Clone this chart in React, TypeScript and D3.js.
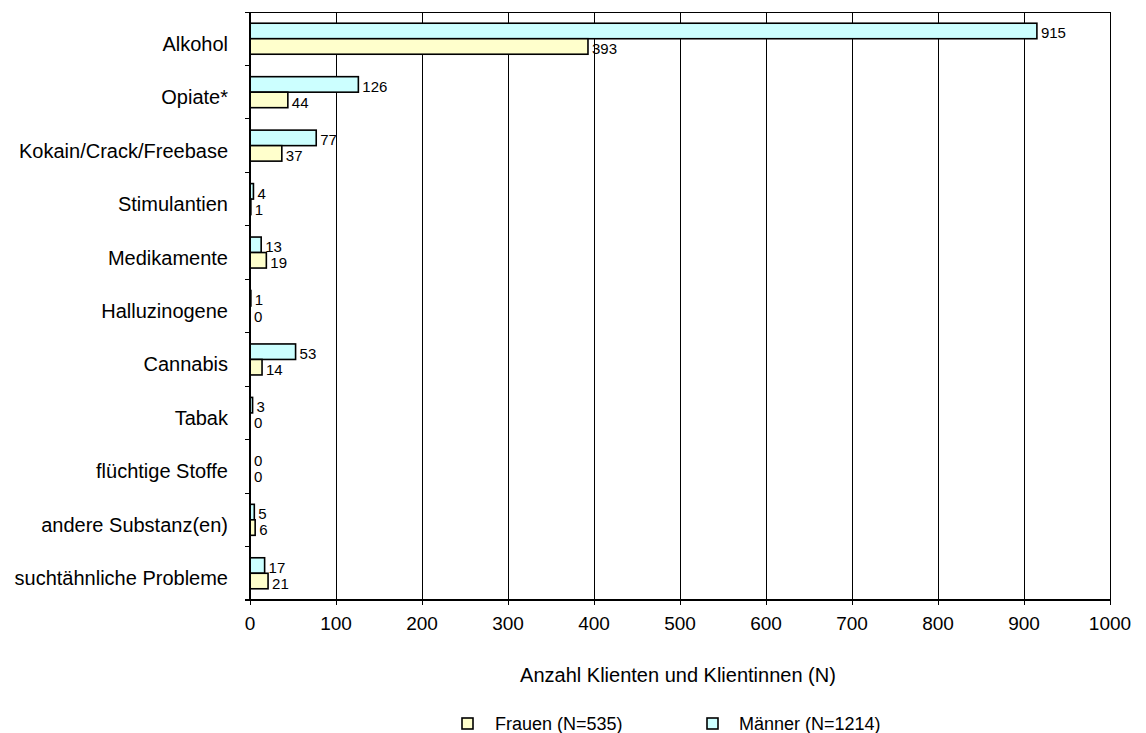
import React from "react";
import * as d3 from "d3";

const categories = [
  "Alkohol",
  "Opiate*",
  "Kokain/Crack/Freebase",
  "Stimulantien",
  "Medikamente",
  "Halluzinogene",
  "Cannabis",
  "Tabak",
  "flüchtige Stoffe",
  "andere Substanz(en)",
  "suchtähnliche Probleme",
];
const maenner = [915, 126, 77, 4, 13, 1, 53, 3, 0, 5, 17];
const frauen = [393, 44, 37, 1, 19, 0, 14, 0, 0, 6, 21];
const xTicks = [0, 100, 200, 300, 400, 500, 600, 700, 800, 900, 1000];
const seriesNames = ["Frauen (N=535)", "Männer (N=1214)"];
const axisTitle = "Anzahl Klienten und Klientinnen (N)";

const W = 1146;
const H = 733;
const M = { left: 250, right: 1110, top: 12, bottom: 600 };
const FONT = "Arial, 'Liberation Sans', sans-serif";
const C_M = "#CCFFFF";
const C_F = "#FFFFCC";

export default function App() {
  const x = d3.scaleLinear().domain([0, 1000]).range([M.left, M.right]);
  const y = d3
    .scaleBand<string>()
    .domain(categories)
    .range([M.top, M.bottom])
    .paddingInner(0)
    .paddingOuter(0);
  const bw = y.bandwidth();
  const barH = bw * 0.29;

  return (
    <svg
      width={W}
      height={H}
      style={{ position: "absolute", left: 0, top: 0, background: "#fff" }}
      fontFamily={FONT}
    >
      {/* gridlines */}
      <g shapeRendering="crispEdges">
        {xTicks.map((t) => (
          <line
            key={"g" + t}
            x1={x(t)}
            x2={x(t)}
            y1={M.top}
            y2={M.bottom}
            stroke="#000"
            strokeWidth={1}
          />
        ))}
        <line x1={M.left} x2={M.right} y1={M.top} y2={M.top} stroke="#000" />
      </g>
      {/* bars */}
      {categories.map((c, i) => {
        const y0 = (y(c) as number) + bw / 2 - barH;
        return (
          <g key={c}>
            <rect
              x={x(0)}
              y={y0}
              width={Math.max(0, x(maenner[i]) - x(0))}
              height={barH}
              fill={C_M}
              stroke="#000"
              strokeWidth={1.6}
            />
            <rect
              x={x(0)}
              y={y0 + barH}
              width={Math.max(0, x(frauen[i]) - x(0))}
              height={barH}
              fill={C_F}
              stroke="#000"
              strokeWidth={1.6}
            />
            <text
              x={x(maenner[i]) + 4}
              y={y0 + barH / 2 + 2}
              dy="0.35em"
              fontSize={15}
            >
              {maenner[i]}
            </text>
            <text
              x={x(frauen[i]) + 4}
              y={y0 + barH * 1.5 + 2.5}
              dy="0.35em"
              fontSize={15}
            >
              {frauen[i]}
            </text>
            <text
              x={228}
              y={(y(c) as number) + bw / 2 + 5}
              dy="0.35em"
              fontSize={20}
              textAnchor="end"
            >
              {c}
            </text>
          </g>
        );
      })}
      {/* left axis */}
      <g shapeRendering="crispEdges">
        <line x1={M.left} x2={M.left} y1={M.top} y2={M.bottom} stroke="#000" strokeWidth={2} />
        {d3.range(categories.length + 1).map((i) => {
          const yy = M.top + i * bw;
          return <line key={"lt" + i} x1={M.left - 5} x2={M.left} y1={yy} y2={yy} stroke="#000" />;
        })}
        {/* bottom axis */}
        <line x1={M.left - 5} x2={M.right} y1={M.bottom} y2={M.bottom} stroke="#000" strokeWidth={2} />
        {xTicks.map((t) => (
          <line key={"tk" + t} x1={x(t)} x2={x(t)} y1={M.bottom} y2={M.bottom + 5} stroke="#000" />
        ))}
      </g>
      {xTicks.map((t) => (
        <text key={"t" + t} x={x(t)} y={623} dy="0.35em" fontSize={19} textAnchor="middle">
          {t}
        </text>
      ))}
      <text x={678} y={675} dy="0.35em" fontSize={20} textAnchor="middle">
        {axisTitle}
      </text>
      {/* legend */}
      <rect x={462} y={718} width={11} height={11} fill={C_F} stroke="#000" strokeWidth={1.6} />
      <text x={495} y={724} dy="0.35em" fontSize={18}>
        {seriesNames[0]}
      </text>
      <rect x={707} y={718} width={11} height={11} fill={C_M} stroke="#000" strokeWidth={1.6} />
      <text x={739} y={724} dy="0.35em" fontSize={18}>
        {seriesNames[1]}
      </text>
    </svg>
  );
}
